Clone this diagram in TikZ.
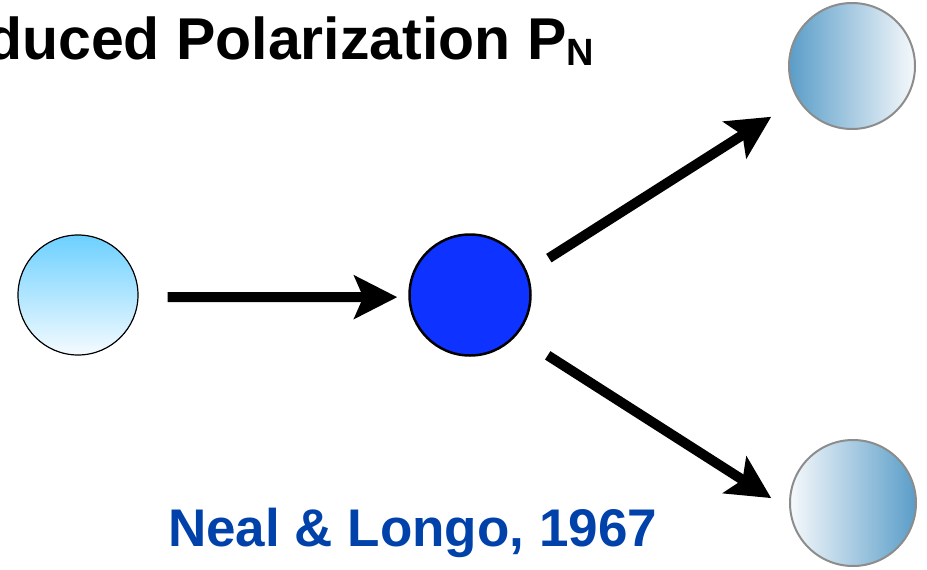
\documentclass[tikz,border=0pt]{standalone}
\usepackage{fontspec}
\setmainfont{Liberation Sans}
\usetikzlibrary{arrows.meta}
\definecolor{skytop}{RGB}{108,208,255}
\definecolor{skybot}{RGB}{245,251,255}
\definecolor{coreblue}{RGB}{14,50,255}
\definecolor{steel}{RGB}{90,157,200}
\definecolor{steelpale}{RGB}{246,249,251}
\definecolor{rimgray}{RGB}{140,140,140}
\definecolor{citeblue}{RGB}{0,65,170}
\begin{document}
\begin{tikzpicture}[x=1pt,y=-1pt,
  ball/.style={circle, inner sep=0pt, minimum size=#1},
  arr/.style={line width=10pt, -{Stealth[length=43pt,width=43pt,inset=9pt]}}]
\useasboundingbox (0,0) rectangle (927,570);
\node[ball=120pt, draw=black, line width=1.2pt, top color=skytop, bottom color=skybot] (a) at (78,295) {};
\node[ball=121pt, draw=black, line width=2.5pt, fill=coreblue] (b) at (470,295) {};
\node[ball=126pt, draw=rimgray, line width=2pt, left color=steel, right color=steelpale] (c) at (852,66) {};
\node[ball=126pt, draw=rimgray, line width=2pt, left color=steelpale, right color=steel] (d) at (853,503) {};
\draw[arr, shorten <=29pt, shorten >=11pt] (a.-2) -- (b.182);
\draw[arr, shorten <=25.6pt, shorten >=31.4pt] (b.22) -- (c.212);
\draw[arr, shorten <=36.9pt, shorten >=21.5pt] (b.-41) -- (d.186);
\node[anchor=base east, inner sep=0pt, font=\fontsize{59}{70}\selectfont\bfseries] (title) at (594,59)
  {Induced Polarization P\raisebox{-6pt}{\fontsize{38}{38}\selectfont N}};
\node[anchor=base west, inner sep=0pt, text=citeblue, font=\fontsize{53}{60}\selectfont\bfseries] (cite) at (168,546)
  {Neal \& Longo, 1967};
\end{tikzpicture}
\end{document}
